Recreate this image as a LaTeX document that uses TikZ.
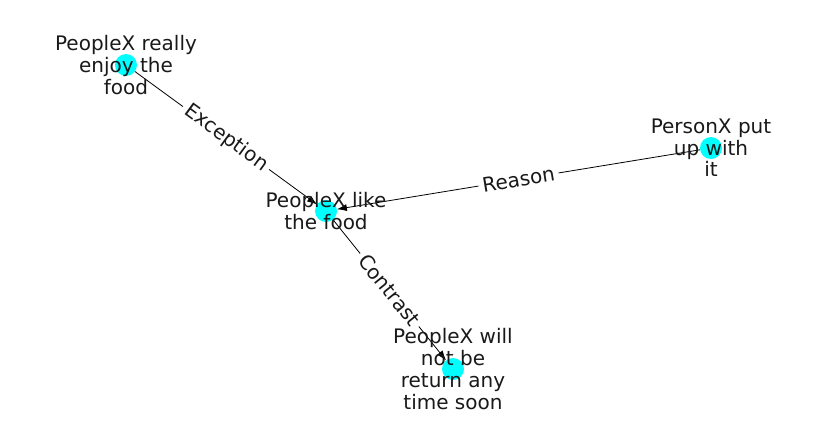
\documentclass[tikz,border=0pt]{standalone}
\usepackage{fontspec}
\setmainfont{DejaVu Sans}
\usetikzlibrary{arrows.meta}
\definecolor{nodecyan}{HTML}{00FFFF}
\begin{document}
\begin{tikzpicture}[x=1pt,y=-1pt,
  dot/.style={circle,fill=nodecyan,draw=none,minimum size=22pt,inner sep=0pt,outer sep=0pt},
  txt/.style={align=center,font=\fontsize{20}{21.7}\selectfont,text=black!90,inner sep=0pt},
  arr/.style={draw=black,line width=0.8pt,-{Latex[length=10pt,width=7pt]}},
  elabel/.style={font=\fontsize{20}{21.7}\selectfont,fill=white,text=black!90,inner sep=4pt,sloped}]
\useasboundingbox (0,0) rectangle (837,434);
\node[dot] (a) at (126,65) {};
\node[dot] (b) at (326,211) {};
\node[dot] (c) at (711,148) {};
\node[dot] (d) at (453,369) {};
\draw[arr] (a) -- (b) node[elabel,midway] {Exception};
\draw[arr] (c) -- (b) node[elabel,midway] {Reason};
\draw[arr] (b) -- (d) node[elabel,midway] {Contrast};
\node[txt] (ta) at (126,65) {PeopleX really\\enjoy the\\food};
\node[txt] (tb) at (326,211) {PeopleX like\\the food};
\node[txt] (tc) at (711,148) {PersonX put\\up with\\it};
\node[txt] (td) at (453,369) {PeopleX will\\not be\\return any\\time soon};
\end{tikzpicture}
\end{document}
